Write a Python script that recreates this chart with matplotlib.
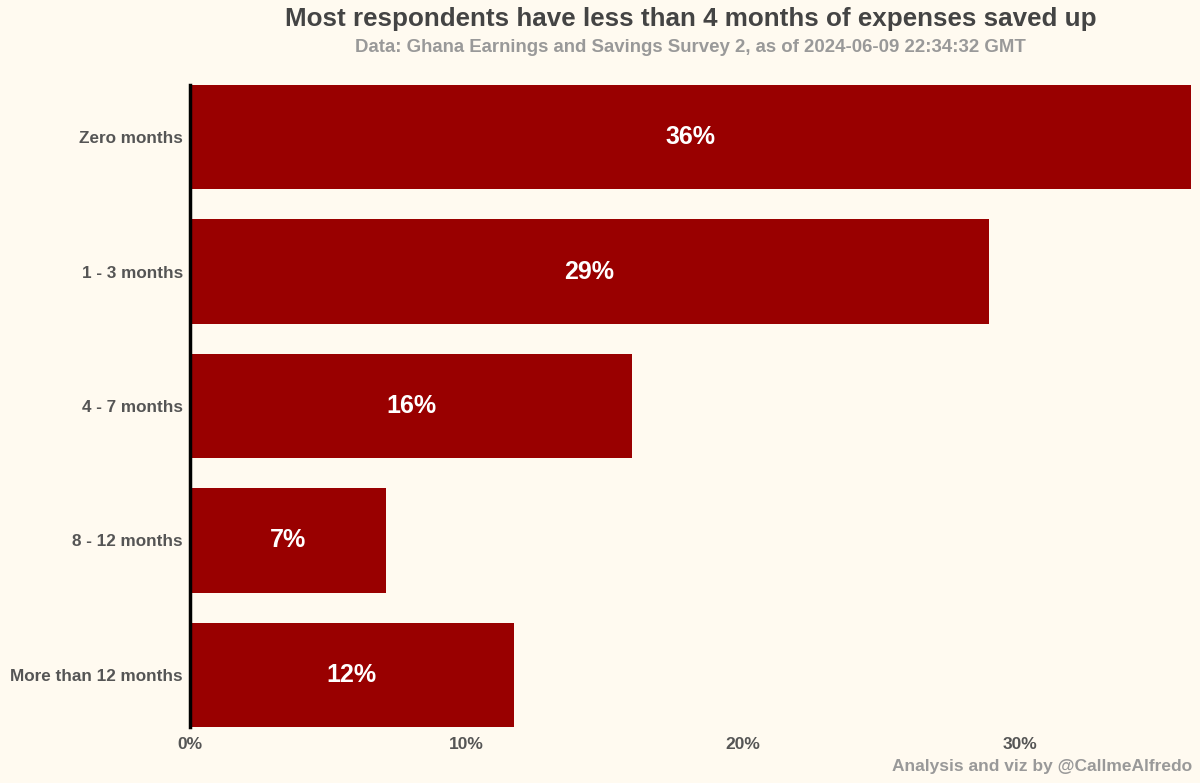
import matplotlib.pyplot as plt
from matplotlib.ticker import FuncFormatter

categories = ["Zero months", "1 - 3 months", "4 - 7 months", "8 - 12 months", "More than 12 months"]
shares = [36.2, 28.9, 16.0, 7.1, 11.7]
bar_labels = ["36%", "29%", "16%", "7%", "12%"]

BG = "#fffaf0"
BAR = "#990000"

plt.rcParams['font.family'] = ['Liberation Sans', 'DejaVu Sans']

fig = plt.figure(figsize=(12, 7.83), dpi=100, facecolor=BG)
ax = fig.add_axes([190 / 1200, 1 - 727 / 783, (1191 - 190) / 1200, (727 - 85) / 783])
ax.set_facecolor(BG)

h = 0.775
ypos = list(range(len(categories)))
ax.barh(ypos, shares, height=h, color=BAR)
for y, v, lab in zip(ypos, shares, bar_labels):
    ax.text(v / 2, y, lab, ha='center', va='center', color='white',
            fontsize=18, fontweight='bold')

ax.set_ylim(len(categories) - 1 + h / 2, -h / 2)
ax.set_xlim(0, max(shares))
ax.set_yticks(ypos)
ax.set_yticklabels(categories, fontsize=12.3, fontweight='bold', color='#555555')
ax.set_xticks([0, 10, 20, 30])
ax.xaxis.set_major_formatter(FuncFormatter(lambda x, p: f"{x:.0f}%"))
for t in ax.get_xticklabels():
    t.set_fontweight('bold')
    t.set_fontsize(12.5)
    t.set_color('#555555')
ax.tick_params(axis='x', length=0, pad=7)
ax.tick_params(axis='y', length=0, pad=5)
for s in ['top', 'right', 'bottom']:
    ax.spines[s].set_visible(False)
ax.spines['left'].set_linewidth(2.5)
ax.spines['left'].set_color('black')

fig.text(691 / 1200, 1 - 19 / 783, "Most respondents have less than 4 months of expenses saved up",
         ha='center', va='center', fontsize=18.7, fontweight='bold', color='#444444')
fig.text(690 / 1200, 1 - 48 / 783, "Data: Ghana Earnings and Savings Survey 2, as of 2024-06-09 22:34:32 GMT",
         ha='center', va='center', fontsize=13.4, fontweight='bold', color='#999999')
fig.text(1192 / 1200, 0.012, "Analysis and viz by @CallmeAlfredo",
         ha='right', va='bottom', fontsize=12.5, fontweight='bold', color='#999999')

fig.savefig("out.png", dpi=100, facecolor=BG)
